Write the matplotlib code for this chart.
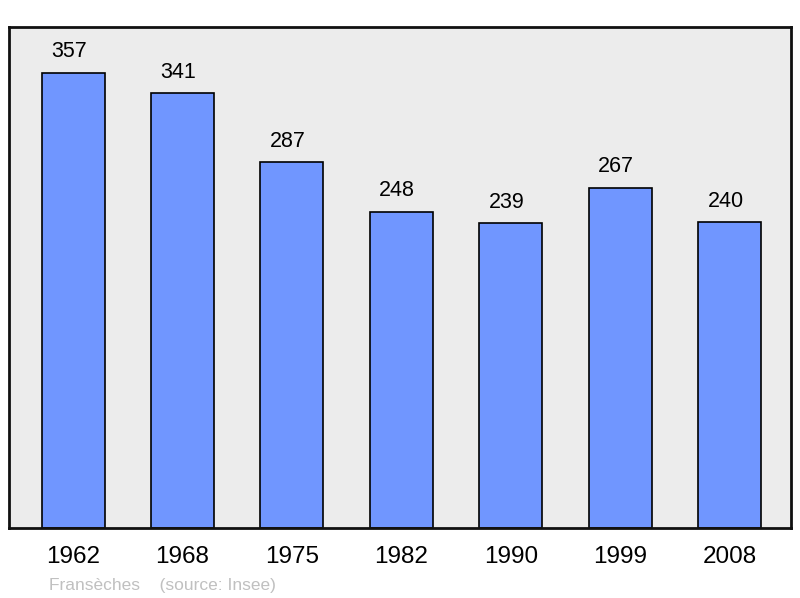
import matplotlib.pyplot as plt

plt.rcParams['font.family'] = ['Liberation Sans', 'DejaVu Sans']

years = ['1962', '1968', '1975', '1982', '1990', '1999', '2008']
population = [357, 341, 287, 248, 239, 267, 240]

fig = plt.figure(figsize=(8, 5.98), dpi=100)
ax = fig.add_axes([9 / 800, 70 / 598, 782 / 800, 501 / 598])
ax.set_facecolor('#ececec')

x = range(len(years))
ax.bar(x, population, width=0.576, color='#7096ff', edgecolor='black', linewidth=1.2, zorder=2)

for i, v in enumerate(population):
    ax.annotate(str(v), (i, v), xytext=(-3, 7.5), textcoords='offset points',
                ha='center', va='bottom', fontsize=15.5)

ax.set_xlim(-0.585, 6.56)
ax.set_ylim(0, 393)
ax.set_yticks([])
ax.set_xticks(list(x))
ax.set_xticklabels(years, fontsize=17.5)
ax.tick_params(axis='x', length=0, pad=13)
for s in ax.spines.values():
    s.set_linewidth(2)
    s.set_color('#111111')

fig.text(49 / 800, 1 - 590 / 598, 'Fransèches    (source: Insee)', fontsize=12.5,
         color='#c0c0c0', ha='left', va='baseline')

fig.savefig('out.png', dpi=100)
